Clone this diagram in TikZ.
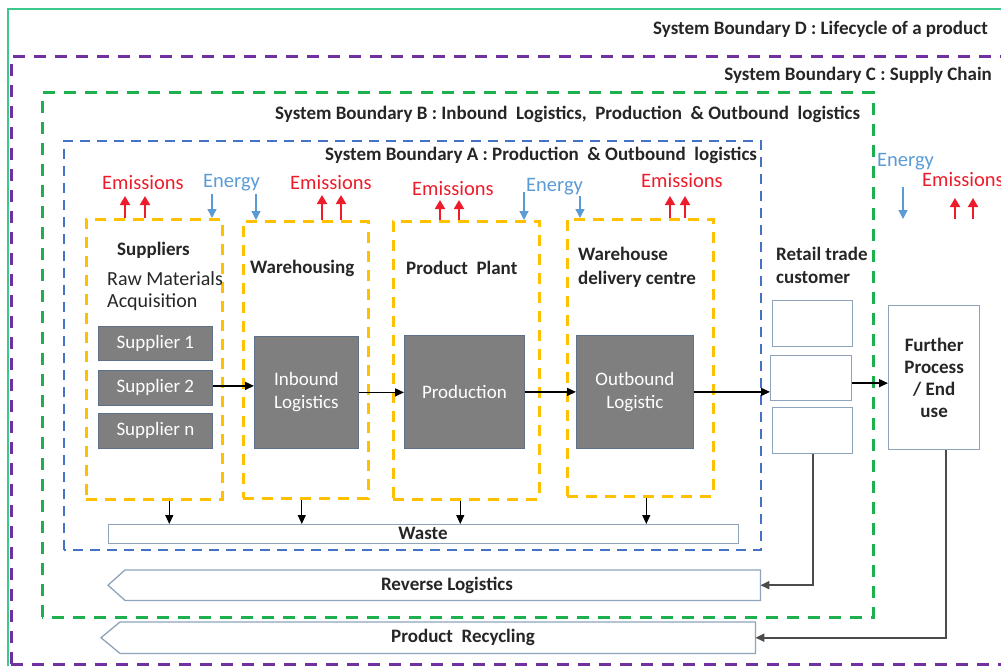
\documentclass[tikz,border=0pt]{standalone}
\usepackage{fontspec}
\setmainfont{Carlito}
\usetikzlibrary{arrows.meta}
\definecolor{frameG}{HTML}{3CC88C}
\definecolor{bndD}{HTML}{7030A0}
\definecolor{bndB}{HTML}{1DB04E}
\definecolor{bndA}{HTML}{4472C4}
\definecolor{yel}{HTML}{FFC000}
\definecolor{greyF}{HTML}{7F7F7F}
\definecolor{greyB}{HTML}{5E7186}
\definecolor{emi}{HTML}{EE1C2A}
\definecolor{ene}{HTML}{5B9BD5}
\definecolor{pale}{HTML}{8EA4BA}
\definecolor{txt}{HTML}{262626}
\begin{document}
\begin{tikzpicture}[x=1pt,y=-1pt,
  bndline/.style={line width=3pt, dash pattern=on 12pt off 9pt},
  ybox/.style={draw=yel, line width=2.6pt, dash pattern=on 11pt off 8pt, inner sep=0pt, anchor=north west},
  gbox/.style={fill=greyF, draw=greyB, line width=0.8pt, text=white, font=\fontsize{19}{23}\selectfont, align=center, inner sep=0pt, anchor=north west},
  wbox/.style={draw=pale, line width=1.3pt, fill=white, inner sep=0pt, anchor=north west},
  lbl/.style={font=\bfseries\fontsize{19}{23}\selectfont, text=txt, inner sep=0pt},
  reg/.style={font=\fontsize{20}{22}\selectfont, text=txt, inner sep=0pt},
  emis/.style={font=\fontsize{20.5}{22}\selectfont, text=emi, inner sep=0pt},
  ener/.style={font=\fontsize{20.5}{22}\selectfont, text=ene, inner sep=0pt},
  uparr/.style={-{Triangle[length=9pt,width=10pt]}, draw=emi, line width=1.9pt},
  downarr/.style={-{Triangle[length=9pt,width=9pt]}, draw=ene, line width=1.3pt},
  flow/.style={-{Triangle[length=9pt,width=8pt]}, line width=1.5pt},
  back/.style={-{Triangle[length=9pt,width=8pt]}, draw=black!70, line width=2.2pt}]
\useasboundingbox (0,0) rectangle (1001,666);
\clip (0,0) rectangle (1001,666);
% boundaries
\draw[frameG, line width=2pt] (8,9) rectangle (1020,690);
\draw[bndD, bndline] (11,664) -- (11,57) -- (1020,57);
\draw[bndD, bndline] (11,664) -- (1020,664);
\draw[bndB, bndline] (42,617) -- (42,93) -- (873,93) -- (873,617) -- cycle;
\draw[bndA, line width=2.8pt, dash pattern=on 10pt off 7pt] (64,550) -- (64,141) -- (761,141) -- (761,550) -- cycle;
% boundary labels
\node[lbl, anchor=east] (lD) at (988,29) {System Boundary D : Lifecycle of a product};
\node[lbl, anchor=east] (lC) at (992,75) {System Boundary C : Supply Chain};
\node[lbl, anchor=west] (lB) at (275,114) {System Boundary B : Inbound\ \ Logistics,\ \ Production\ \ \& Outbound\ \ logistics};
\node[lbl, anchor=west] (lA) at (325,155) {System Boundary A : Production\ \ \& Outbound\ \ logistics};
% yellow boxes
\node[ybox, minimum width=136pt, minimum height=280pt] (sup) at (85,218) {};
\node[ybox, minimum width=125pt, minimum height=277pt] (wh) at (242,220) {};
\node[ybox, minimum width=146pt, minimum height=278pt] (pp) at (392,220) {};
\node[ybox, minimum width=146pt, minimum height=277pt] (wd) at (566,218) {};
% titles
\node[lbl, anchor=west] (tSup) at (117,250) {Suppliers};
\node[reg, anchor=north west, align=left, font=\fontsize{20}{22}\selectfont] (tRaw) at (107,271) {Raw Materials\\Acquisition};
\node[lbl, anchor=west] (tWh) at (250,268) {Warehousing};
\node[lbl, anchor=west] (tPp) at (406,268) {Product\ \ Plant};
\node[lbl, anchor=north west, align=left, font=\bfseries\fontsize{19}{24}\selectfont] (tWd) at (578,247) {Warehouse\\delivery centre};
\node[lbl, anchor=north west, align=left, font=\bfseries\fontsize{19}{23}\selectfont] (tRt) at (776,247) {Retail trade\\customer};
% grey boxes
\node[gbox, minimum width=114pt, minimum height=34pt] (s1) at (98,326) {Supplier 1};
\node[gbox, minimum width=114pt, minimum height=35pt] (s2) at (98,370) {Supplier 2};
\node[gbox, minimum width=114pt, minimum height=35pt] (sn) at (98,413) {Supplier n};
\node[gbox, minimum width=104pt, minimum height=112pt] (inb) at (254,336) {Inbound\\Logistics};
\node[gbox, minimum width=120pt, minimum height=113pt] (prod) at (404,335) {Production};
\node[gbox, minimum width=117pt, minimum height=113pt] (outb) at (576,335) {Outbound\\Logistic};
% retail boxes
\node[wbox, minimum width=80pt, minimum height=46pt] (r1) at (772,300) {};
\node[wbox, minimum width=81pt, minimum height=45pt] (r2) at (770,355) {};
\node[wbox, minimum width=80pt, minimum height=46pt] (r3) at (772,407) {};
\node[wbox, minimum width=91pt, minimum height=144pt, align=center, font=\bfseries\fontsize{19}{22}\selectfont, text=txt] (fur) at (888,305) {Further\\Process\\/ End\\use};
% flows
\draw[flow] ([yshift=2pt]s2.east) -- ([yshift=2pt]s2.east -| inb.west);
\draw[flow] (inb.east) -- (inb.east -| prod.west);
\draw[flow] (prod.east) -- (prod.east -| outb.west);
\draw[flow] (outb.east) -- (outb.east -| r2.west);
\draw[flow] ([yshift=-5pt]r2.east) -- ([yshift=-5pt]r2.east -| fur.west);
% waste
\node[wbox, minimum width=630pt, minimum height=19pt] (waste) at (108,524) {};
\node[lbl, font=\bfseries\fontsize{19}{20}\selectfont] (tWaste) at (423,533) {Waste};
\draw[flow, line width=1.2pt] ([xshift=15pt]sup.south) -- ([xshift=15pt]sup.south |- waste.north);
\draw[flow, line width=1.2pt] ([xshift=-4pt]wh.south) -- ([xshift=-4pt]wh.south |- waste.north);
\draw[flow, line width=1.2pt] ([xshift=-6pt]pp.south) -- ([xshift=-6pt]pp.south |- waste.north);
\draw[flow, line width=1.2pt] ([xshift=6pt]wd.south) -- ([xshift=6pt]wd.south |- waste.north);
% reverse logistics
\node[inner sep=0pt, minimum width=635pt, minimum height=30pt, anchor=north west] (rev) at (125,570) {};
\draw[draw=pale, line width=1.3pt, fill=white] (rev.north west) -- (rev.north east) -- (rev.south east) -- (rev.south west) -- ([xshift=-17pt]rev.west) -- cycle;
\node[lbl, font=\bfseries\fontsize{19}{20}\selectfont] (tRev) at (447,585) {Reverse Logistics};
\node[inner sep=0pt, minimum width=635pt, minimum height=31pt, anchor=north west] (rec) at (120,622) {};
\draw[draw=pale, line width=1.3pt, fill=white] (rec.north west) -- (rec.north east) -- (rec.south east) -- (rec.south west) -- ([xshift=-19pt]rec.west) -- cycle;
\node[lbl, font=\bfseries\fontsize{19}{20}\selectfont] (tRec) at (463,637) {Product\ \ Recycling};
\draw[back] (r3.south) |- (rev.east);
\draw[back] ([xshift=12pt]fur.south) |- (rec.east);
% emissions / energy
\node[emis, anchor=west] (em1) at (102,183) {Emissions};
\node[ener, anchor=west] (en1) at (203,183) {Energy};
\node[emis, anchor=west] (em2) at (290,183) {Emissions};
\node[emis, anchor=west] (em3) at (412,189) {Emissions};
\node[ener, anchor=west] (en2) at (526,187) {Energy};
\node[emis, anchor=west] (em4) at (641,181) {Emissions};
\node[ener, anchor=west] (en3) at (877,162) {Energy};
\node[emis, anchor=west] (em5) at (922,180) {Emissions};
% emission arrows (tails at box tops)
\coordinate (m1) at (125,196); \coordinate (m2) at (145,196);
\coordinate (m3) at (322,195); \coordinate (m4) at (341,195);
\coordinate (m5) at (440,200); \coordinate (m6) at (459,200);
\coordinate (m7) at (670,196); \coordinate (m8) at (685,196);
\draw[uparr] (m1 |- sup.north) -- (m1);
\draw[uparr] (m2 |- sup.north) -- (m2);
\draw[uparr] (m3 |- wh.north) -- (m3);
\draw[uparr] (m4 |- wh.north) -- (m4);
\draw[uparr] (m5 |- pp.north) -- (m5);
\draw[uparr] (m6 |- pp.north) -- (m6);
\draw[uparr] (m7 |- wd.north) -- (m7);
\draw[uparr] (m8 |- wd.north) -- (m8);
% energy arrows
\coordinate (e1) at (212,194); \coordinate (e2) at (256,194);
\coordinate (e3) at (524,192); \coordinate (e4) at (580,196);
\draw[downarr] (e1) -- (e1 |- sup.north);
\draw[downarr] (e2) -- (e2 |- wh.north);
\draw[downarr] (e3) -- (e3 |- pp.north);
\draw[downarr] (e4) -- (e4 |- wd.north);
% outside arrows
\coordinate (e5a) at (903,187); \coordinate (e5b) at (903,219);
\draw[downarr] (e5a) -- (e5b);
\coordinate (m9a) at (955,219); \coordinate (m9b) at (955,198);
\coordinate (m10a) at (973,219); \coordinate (m10b) at (973,198);
\draw[uparr] (m9a) -- (m9b);
\draw[uparr] (m10a) -- (m10b);
\end{tikzpicture}
\end{document}
